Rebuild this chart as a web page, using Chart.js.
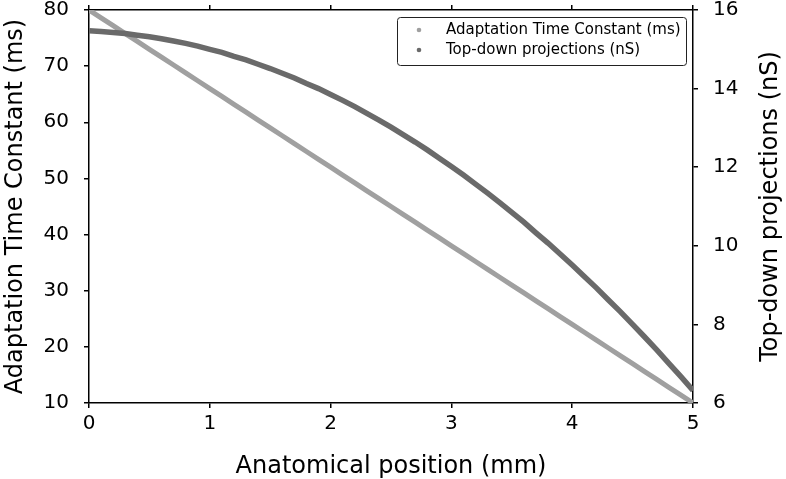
<!DOCTYPE html>
<html>
<head>
<meta charset="utf-8">
<script src="https://cdn.jsdelivr.net/npm/chart.js@4.4.1/dist/chart.umd.min.js"></script>
<style>
html, body { margin: 0; padding: 0; background: #fff; }
</style>
</head>
<body>
<canvas id="chart" width="786" height="479"></canvas>
<script>
// Anatomical position (mm)
const positions = [0, 0.1, 0.2, 0.3, 0.4, 0.5, 0.6, 0.7, 0.8, 0.9,
    1, 1.1, 1.2, 1.3, 1.4, 1.5, 1.6, 1.7, 1.8, 1.9,
    2, 2.1, 2.2, 2.3, 2.4, 2.5, 2.6, 2.7, 2.8, 2.9,
    3, 3.1, 3.2, 3.3, 3.4, 3.5, 3.6, 3.7, 3.8, 3.9,
    4, 4.1, 4.2, 4.3, 4.4, 4.5, 4.6, 4.7, 4.8, 4.9, 5];

// Adaptation time constant (ms), left axis
const adaptationTime = [80, 78.6, 77.2, 75.8, 74.4, 73, 71.6, 70.2, 68.8, 67.4,
    66, 64.6, 63.2, 61.8, 60.4, 59, 57.6, 56.2, 54.8, 53.4,
    52, 50.6, 49.2, 47.8, 46.4, 45, 43.6, 42.2, 40.8, 39.4,
    38, 36.6, 35.2, 33.8, 32.4, 31, 29.6, 28.2, 26.8, 25.4,
    24, 22.6, 21.2, 19.8, 18.4, 17, 15.6, 14.2, 12.8, 11.4, 10];

// Top-down projections (nS), right axis
const topDown = [15.47, 15.45, 15.43, 15.40, 15.36, 15.32, 15.27, 15.21, 15.15, 15.08,
    15.00, 14.92, 14.82, 14.73, 14.62, 14.51, 14.39, 14.27, 14.13, 14.00,
    13.85, 13.70, 13.54, 13.37, 13.20, 13.02, 12.83, 12.64, 12.44, 12.23,
    12.02, 11.80, 11.57, 11.34, 11.10, 10.85, 10.60, 10.33, 10.07, 9.79,
    9.51, 9.22, 8.93, 8.62, 8.32, 8.00, 7.68, 7.35, 7.01, 6.67, 6.32];

const labels = ['Adaptation Time Constant (ms)', 'Top-down projections (nS)'];
const FONT = "'DejaVu Sans', sans-serif";

const toPoints = ys => positions.map((x, i) => ({ x: x, y: ys[i] }));

// legend with a frame, top right of the plot
const boxedLegend = {
    id: 'boxedLegend',
    afterDraw(chart) {
        const ctx = chart.ctx;
        const area = chart.chartArea;
        const w = 289, h = 48;
        const x0 = area.right - 7 - w;
        const y0 = area.top + 7;
        ctx.save();
        ctx.beginPath();
        ctx.roundRect(x0 + 0.5, y0 + 0.5, w, h, 3);
        ctx.fillStyle = '#fff';
        ctx.fill();
        ctx.strokeStyle = '#222';
        ctx.lineWidth = 1;
        ctx.stroke();
        ctx.font = '15px ' + FONT;
        ctx.textBaseline = 'middle';
        chart.data.datasets.forEach((ds, i) => {
            const y = y0 + 13 + i * 20;
            ctx.beginPath();
            ctx.arc(x0 + 22, y, 2.3, 0, Math.PI * 2);
            ctx.fillStyle = ds.borderColor;
            ctx.fill();
            ctx.fillStyle = '#000';
            ctx.fillText(ds.label, x0 + 49, y);
        });
        ctx.restore();
    }
};

// right axis title reads bottom to top like the left one
const rightTitle = {
    id: 'rightTitle',
    afterDraw(chart) {
        const ctx = chart.ctx;
        const area = chart.chartArea;
        ctx.save();
        ctx.translate(771, (area.top + area.bottom) / 2);
        ctx.rotate(-Math.PI / 2);
        ctx.font = '24px ' + FONT;
        ctx.fillStyle = '#000';
        ctx.textAlign = 'center';
        ctx.textBaseline = 'middle';
        ctx.fillText(labels[1], 0, 0);
        ctx.restore();
    }
};

const axisLine = { display: true, color: '#000', width: 1.5 };
const tickMarks = { drawOnChartArea: false, drawTicks: true, tickLength: 5, color: '#000', lineWidth: 1.5 };
const tickFont = { family: FONT, size: 20 };

new Chart(document.getElementById('chart'), {
    type: 'line',
    data: {
        datasets: [
            {
                label: labels[0],
                data: toPoints(adaptationTime),
                yAxisID: 'y',
                borderColor: '#a0a0a0',
                borderWidth: 5,
                pointRadius: 0,
                fill: false,
                order: 1
            },
            {
                label: labels[1],
                data: toPoints(topDown),
                yAxisID: 'y2',
                borderColor: '#6a6a6a',
                borderWidth: 5.5,
                pointRadius: 0,
                fill: false,
                order: 0
            }
        ]
    },
    options: {
        responsive: false,
        animation: false,
        layout: { padding: 0 },
        plugins: {
            legend: { display: false },
            tooltip: { enabled: false }
        },
        scales: {
            x: {
                type: 'linear',
                position: 'bottom',
                min: 0,
                max: 5,
                ticks: { stepSize: 1, color: '#000', font: tickFont, padding: 4, maxRotation: 0 },
                grid: tickMarks,
                border: axisLine,
                title: {
                    display: true,
                    text: 'Anatomical position (mm)',
                    color: '#000',
                    font: { family: FONT, size: 24 },
                    padding: { top: 0, bottom: -2 }
                },
                afterFit(s) { s.height = 76; }
            },
            x2: {
                type: 'linear',
                position: 'top',
                min: 0,
                max: 5,
                ticks: { stepSize: 1, display: false },
                grid: tickMarks,
                border: axisLine,
                afterFit(s) { s.height = 10; }
            },
            y: {
                position: 'left',
                min: 10,
                max: 80,
                ticks: { stepSize: 10, color: '#000', font: tickFont, padding: 15 },
                grid: tickMarks,
                border: axisLine,
                title: {
                    display: true,
                    text: labels[0],
                    color: '#000',
                    font: { family: FONT, size: 24 },
                    padding: { top: 1, bottom: 0 }
                },
                afterFit(s) { s.width = 89; s.paddingTop = 0; s.paddingBottom = 0; }
            },
            y2: {
                position: 'right',
                min: 6,
                max: 16,
                ticks: { stepSize: 2, color: '#000', font: tickFont, padding: 15 },
                grid: tickMarks,
                border: axisLine,
                afterFit(s) { s.width = 93; s.paddingTop = 0; s.paddingBottom = 0; }
            }
        }
    },
    plugins: [boxedLegend, rightTitle]
});
</script>
</body>
</html>
